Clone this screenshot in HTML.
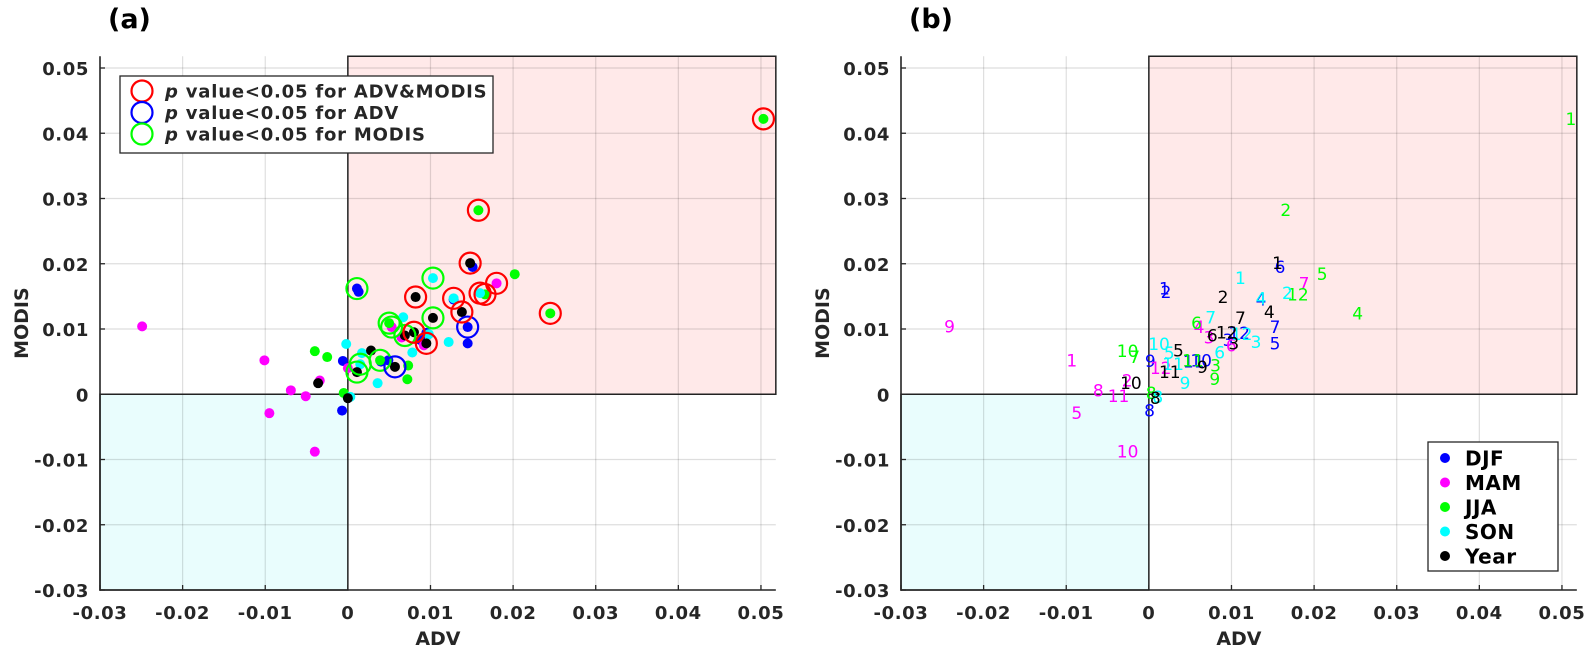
<!DOCTYPE html>
<html><head><meta charset="utf-8">
<style>
html,body{margin:0;padding:0;background:#fff;}
svg{display:block;font-family:"DejaVu Sans","Liberation Sans",sans-serif;}
.tk{font-size:18px;font-weight:bold;fill:#262626;letter-spacing:0.6px;}
.ttl{font-size:19px;font-weight:bold;fill:#262626;}
.lbl{font-size:17px;}
</style></head>
<body>
<svg id="fig" width="1586" height="652" viewBox="0 0 1586 652" xmlns="http://www.w3.org/2000/svg"></svg>
<script>
// ---- data (season series: x = ADV, y = MODIS, sig: 0 none, 1 both, 2 ADV, 3 MODIS) ----
const monthLabels = ["1","2","3","4","5","6","7","8","9","10","11","12"];
const djfX = [0.0011,0.0013,0.0088,0.0128,0.0145,0.0151,0.0145,-0.0007,-0.0006,0.0049,0.0040,0.0095];
const djfY = [0.0162,0.0157,0.0083,0.0145,0.0078,0.0195,0.0103,-0.0025,0.0051,0.0052,0.0050,0.0094];
const djfSig = [3,0,0,0,0,0,2,0,0,0,0,0];
const mamX = [-0.0101,-0.0034,0.0065,0.0053,-0.0095,0.0092,0.0180,-0.0069,-0.0249,-0.0040,-0.0051,0.0000];
const mamY = [0.0052,0.0021,0.0087,0.0103,-0.0029,0.0075,0.0170,0.0006,0.0104,-0.0088,-0.0003,0.0040];
const mamSig = [0,0,0,3,0,0,1,0,0,0,0,0];
const jjaX = [0.0503,0.0158,0.0073,0.0245,0.0202,0.0050,-0.0025,-0.0005,0.0072,-0.0040,0.0039,0.0166];
const jjaY = [0.0422,0.0282,0.0044,0.0124,0.0184,0.0109,0.0057,0.0002,0.0023,0.0066,0.0052,0.0153];
const jjaSig = [1,1,0,1,0,3,0,0,0,0,3,1];
const sonX = [0.0103,0.0160,0.0122,0.0128,0.0017,0.0078,0.0067,0.0003,0.0036,-0.0002,0.0015,0.0098];
const sonY = [0.0178,0.0155,0.0080,0.0147,0.0063,0.0064,0.0118,-0.0004,0.0017,0.0077,0.0046,0.0092];
const sonSig = [3,1,0,1,0,0,0,0,0,0,3,0];
const yearX = [0.0148,0.0082,0.0095,0.0138,0.0028,0.0069,0.0103,0.0000,0.0057,-0.0036,0.0011,0.0080];
const yearY = [0.0201,0.0149,0.0078,0.0126,0.0067,0.0090,0.0117,-0.0006,0.0042,0.0017,0.0034,0.0095];
const yearSig = [1,1,1,1,0,3,3,0,2,0,3,1];
const seasonNames = ["DJF","MAM","JJA","SON","Year"];
const xTicks = [-0.03,-0.02,-0.01,0,0.01,0.02,0.03,0.04,0.05];
const yTicks = [-0.03,-0.02,-0.01,0,0.01,0.02,0.03,0.04,0.05];
const xTickLabels = ["-0.03","-0.02","-0.01","0","0.01","0.02","0.03","0.04","0.05"];
const yTickLabels = ["-0.03","-0.02","-0.01","0","0.01","0.02","0.03","0.04","0.05"];
const legendATexts = [" value<0.05 for ADV&MODIS"," value<0.05 for ADV"," value<0.05 for MODIS"];

const series = [
  {x:djfX,y:djfY,s:djfSig,c:"#0000ff"},
  {x:mamX,y:mamY,s:mamSig,c:"#ff00ff"},
  {x:jjaX,y:jjaY,s:jjaSig,c:"#00ff00"},
  {x:sonX,y:sonY,s:sonSig,c:"#00ffff"},
  {x:yearX,y:yearY,s:yearSig,c:"#000000"}
];
const sigColors = ["", "#ff0000", "#0000ff", "#00ff00"];
const NS = "http://www.w3.org/2000/svg";
const svg = document.getElementById("fig");
function mk(tag, attrs, parent){
  const e = document.createElementNS(NS, tag);
  for (const k in attrs) e.setAttribute(k, attrs[k]);
  (parent||svg).appendChild(e);
  return e;
}
const XMIN=-0.03, XMAX=0.0518, YMIN=-0.03, YMAX=0.0518;
function makeAxes(left){
  const sx = 8262, sy = 6525;
  return {
    x: v => left + (v - XMIN)*sx,
    y: v => 590 - (v - YMIN)*sy,
    left: left, right: left + (XMAX-XMIN)*sx, top: 590-(YMAX-YMIN)*sy, bottom: 590
  };
}
function drawPanel(ax, panel){
  const g = mk("g", {});
  
  
  const X0 = ax.x(0), Y0 = ax.y(0);
  const q1 = mk("rect", {x:X0, y:ax.top, width:ax.right-X0, height:Y0-ax.top, fill:"#ffe9e9", stroke:"none"}, g);
  
  
  const q3 = mk("rect", {x:ax.left, y:Y0, width:X0-ax.left, height:ax.bottom-Y0, fill:"#e9fdfd", stroke:"none"}, g);
  
  
  xTicks.forEach(t => { mk("line", {x1:ax.x(t), x2:ax.x(t), y1:ax.top, y2:ax.bottom, stroke:"#000", "stroke-opacity":0.13, "stroke-width":1.2}, g); });
  yTicks.forEach(t => { mk("line", {x1:ax.left, x2:ax.right, y1:ax.y(t), y2:ax.y(t), stroke:"#000", "stroke-opacity":0.13, "stroke-width":1.2}, g); });
  mk("rect", {x:X0, y:ax.top, width:ax.right-X0, height:Y0-ax.top, fill:"none", stroke:"#222", "stroke-width":1.5}, g);
  mk("rect", {x:ax.left, y:Y0, width:X0-ax.left, height:ax.bottom-Y0, fill:"none", stroke:"#222", "stroke-width":1.5}, g);
  mk("line", {x1:ax.left, x2:ax.left, y1:ax.top, y2:ax.bottom+0.75, stroke:"#262626", "stroke-width":1.6}, g);
  mk("line", {x1:ax.left, x2:ax.right, y1:ax.bottom, y2:ax.bottom, stroke:"#262626", "stroke-width":1.6}, g);
  xTicks.forEach((t,i) => {
    mk("line", {x1:ax.x(t), x2:ax.x(t), y1:ax.bottom, y2:ax.bottom-5, stroke:"#262626", "stroke-width":1.3}, g);
    const tx = mk("text", {x:ax.x(t), y:619, "text-anchor":"middle", class:"tk"}, g);
    tx.textContent = xTickLabels[i];
    
    
  });
  yTicks.forEach((t,i) => {
    mk("line", {x1:ax.left, x2:ax.left+5, y1:ax.y(t), y2:ax.y(t), stroke:"#262626", "stroke-width":1.3}, g);
    const ty = mk("text", {x:ax.left-11, y:ax.y(t)+7, "text-anchor":"end", class:"tk"}, g);
    ty.textContent = yTickLabels[i];
    
    
  });
  const xt = mk("text", {x:(ax.left+ax.right)/2, y:645, "text-anchor":"middle", class:"ttl"}, g);
  xt.textContent = "ADV";
  
  
  const ycx = ax.left - 72, ycy = (ax.top+ax.bottom)/2;
  const yt = mk("text", {x:ycx, y:ycy, "text-anchor":"middle", class:"ttl", transform:"rotate(-90 "+ycx+" "+ycy+")"}, g);
  yt.textContent = "MODIS";
  
  
  const pl = mk("text", {x:ax.left+8, y:28, "font-size":"27", "font-weight":"bold", fill:"#000"}, g);
  pl.textContent = "(" + panel + ")";
  
  
  return g;
}
// Panel (a)
const axA = makeAxes(100);
const gA = drawPanel(axA, "a");
series.forEach((s, si) => {
  s.x.forEach((v, i) => {
    const d = mk("circle", {cx:axA.x(v), cy:axA.y(s.y[i]), r:5, fill:s.c}, gA);
    
    
  });
});
series.forEach((s, si) => {
  s.x.forEach((v, i) => {
    if (s.s[i] > 0) {
      const r = mk("circle", {cx:axA.x(v), cy:axA.y(s.y[i]), r:10.5, fill:"none", stroke:sigColors[s.s[i]], "stroke-width":2.2}, gA);
      
      
    }
  });
});
const legA = mk("g", {}, gA);


mk("rect", {x:120, y:76, width:373, height:77, fill:"#fff", stroke:"#262626", "stroke-width":1.3}, legA);
legendATexts.forEach((t, i) => {
  const yy = 91 + i*21.5;
  const e = mk("g", {}, legA);
  
  
  mk("circle", {cx:142, cy:yy, r:10.5, fill:"none", stroke:sigColors[i+1], "stroke-width":2.2}, e);
  const tx = mk("text", {x:165, y:yy+6.5, "font-size":"18", "font-weight":"bold", fill:"#262626", "letter-spacing":"0.8"}, e);
  const p = mk("tspan", {"font-style":"italic"}, tx);
  p.textContent = "p";
  const rest = mk("tspan", {}, tx);
  rest.textContent = t;
});
// Panel (b)
const axB = makeAxes(901);
const gB = drawPanel(axB, "b");
series.forEach((s, si) => {
  s.x.forEach((v, i) => {
    const t = mk("text", {x:axB.x(v)+1, y:axB.y(s.y[i])+6, class:"lbl", fill:s.c}, gB);
    t.textContent = monthLabels[i];
    
    
  });
});
const legB = mk("g", {}, gB);


mk("rect", {x:1428, y:442, width:130, height:129, fill:"#fff", stroke:"#262626", "stroke-width":1.3}, legB);
seasonNames.forEach((n, i) => {
  const yy = 458 + i*24.5;
  const e = mk("g", {}, legB);
  
  
  mk("circle", {cx:1445, cy:yy, r:5, fill:series[i].c}, e);
  const tx = mk("text", {x:1465, y:yy+7.5, "font-size":"20", "font-weight":"bold", fill:"#000", "letter-spacing":"0.5"}, e);
  tx.textContent = n;
});
</script>
</body></html>
